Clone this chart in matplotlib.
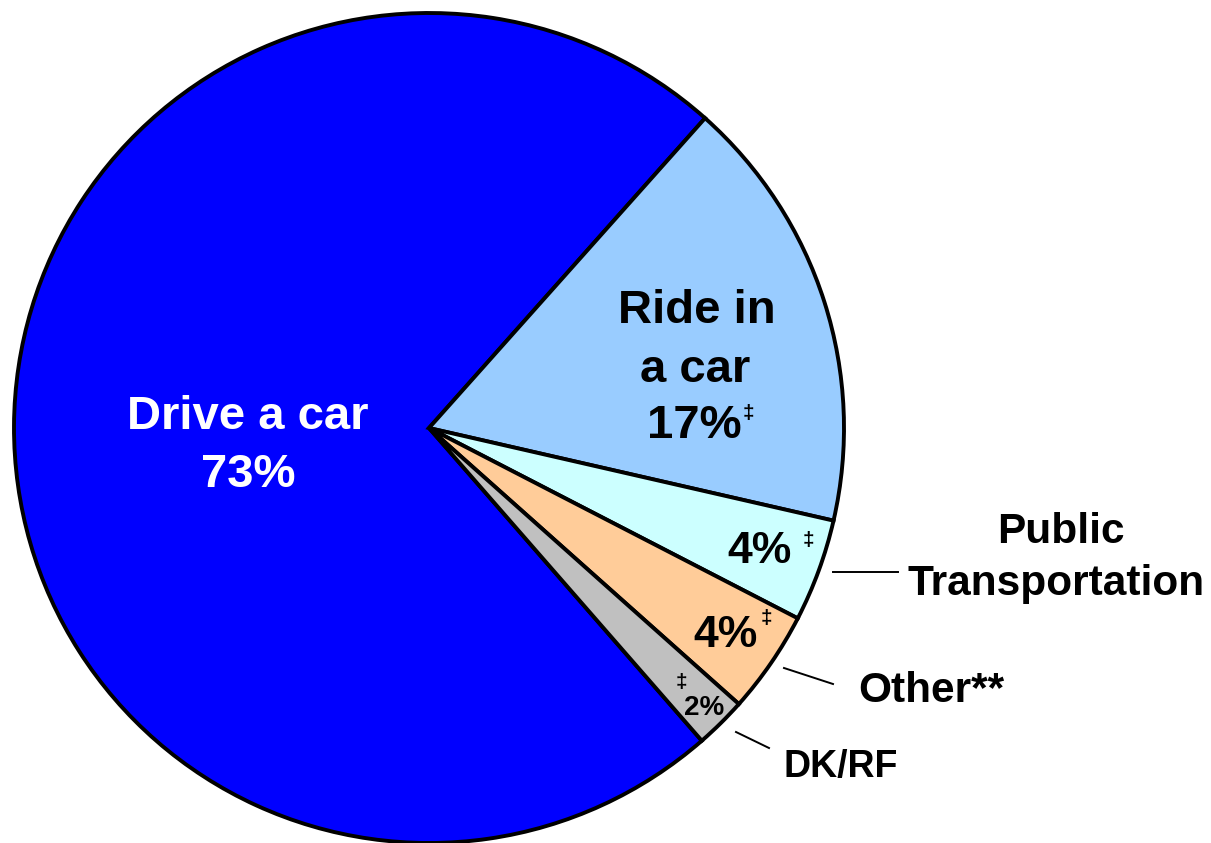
import matplotlib
matplotlib.use('Agg')
import matplotlib.pyplot as plt
from matplotlib.lines import Line2D

plt.rcParams['font.family'] = ['Liberation Sans', 'DejaVu Sans']
plt.rcParams['font.weight'] = 'bold'

# 数据
categories = ['Drive a car', 'Ride in a car', 'Public Transportation', 'Other**', 'DK/RF']
values = [73, 17, 4, 4, 2]
colors = ['#0000FF', '#99CCFF', '#CCFFFF', '#FFCC99', '#C0C0C0']

W, H = 1211, 843
fig = plt.figure(figsize=(W / 100, H / 100), dpi=100)

# 饼图中心 (429, 428)，半径 415 像素
cx, cy, r = 429, 428, 415
ax = fig.add_axes([(cx - r) / W, (H - cy - r) / H, 2 * r / W, 2 * r / H])
wedges, _ = ax.pie(values, colors=colors, startangle=-48.9, counterclock=False,
                   wedgeprops=dict(edgecolor='black', linewidth=2.8))
for w in wedges:
    w.set_clip_on(False)
ax.set_xlim(-1, 1)
ax.set_ylim(-1, 1)
ax.set_aspect('equal')
ax.axis('off')


def ftxt(x, y, s, size, color='black', ha='center'):
    fig.text(x / W, 1 - y / H, s, fontsize=size, color=color, ha=ha,
             va='baseline', fontweight='bold')


def fline(x0, y0, x1, y1):
    fig.add_artist(Line2D([x0 / W, x1 / W], [1 - y0 / H, 1 - y1 / H],
                          transform=fig.transFigure, color='black', linewidth=1.4))


# 扇区内标签
ftxt(248, 429, 'Drive a car', 34, 'white')
ftxt(248, 487, f'{values[0]}%', 34, 'white')

ftxt(697, 323, 'Ride in', 34)
ftxt(695, 382, 'a car', 34)
ftxt(694, 438, f'{values[1]}%', 34)
ftxt(748, 419, '‡', 15)

ftxt(760, 563, f'{values[2]}%', 32)
ftxt(808, 546, '‡', 15)

ftxt(726, 647, f'{values[3]}%', 32)
ftxt(766, 624, '‡', 15)

ftxt(681, 688, '‡', 15)
ftxt(704, 715, f'{values[4]}%', 20)

# 外部标签
ftxt(1061, 543, 'Public', 30.5)
ftxt(1056, 595, 'Transportation', 30.5)
fline(833, 572, 898, 572)

ftxt(931, 702, categories[3], 30.5)
fline(784, 668, 833, 684)

ftxt(841, 777, categories[4], 27)
fline(736, 732, 769, 748)

fig.savefig('out.png', dpi=100)
